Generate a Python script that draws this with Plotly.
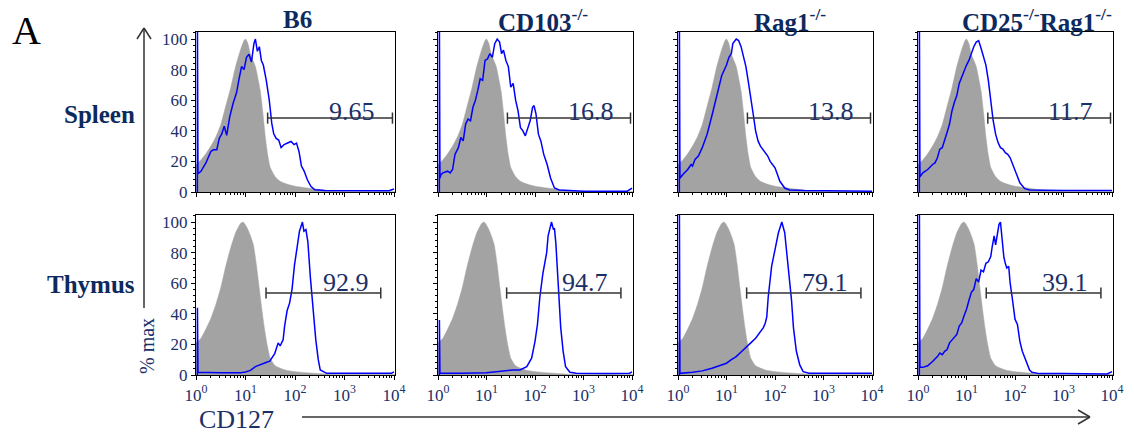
import plotly.graph_objects as go

W, H = 1134, 435

# ---------------- data ----------------
column_titles = ["B6", "CD103<sup>-/-</sup>", "Rag1<sup>-/-</sup>", "CD25<sup>-/-</sup>Rag1<sup>-/-</sup>"]
row_titles = ["Spleen", "Thymus"]
x_tick_vals = [1, 10, 100, 1000, 10000]
x_tick_text = ["10<sup>0</sup>", "10<sup>1</sup>", "10<sup>2</sup>", "10<sup>3</sup>", "10<sup>4</sup>"]
y_tick_vals = [0, 20, 40, 60, 80, 100]

# gray control histograms: log10(CD127) and % max
gray_spleen_log = [0, 0.1, 0.2, 0.3, 0.4, 0.5, 0.6, 0.7, 0.8, 0.9, 0.97, 1.0, 1.05, 1.1, 1.2, 1.3, 1.35, 1.4,
                   1.45, 1.5, 1.6, 1.7, 1.85, 2.0, 2.3, 2.6, 2.9, 3.2, 4.02]
gray_spleen_pct = [18, 21, 25, 30, 36, 44, 56, 68, 82, 93, 99, 100, 97, 90, 82, 66, 52, 36,
                   24, 16, 10, 7, 5, 3.8, 2.4, 1.2, 0.5, 0.3, 0.2]
gray_thymus_log = [0, 0.1, 0.2, 0.3, 0.4, 0.5, 0.6, 0.7, 0.8, 0.9, 0.95, 1.0, 1.05, 1.1, 1.16, 1.22, 1.28, 1.33,
                   1.38, 1.43, 1.5, 1.6, 1.8, 2.0, 2.3, 2.6, 3.0, 4.02]
gray_thymus_pct = [21, 24, 30, 37, 46, 57, 71, 83, 93, 99, 100, 98, 95, 91, 85, 72, 56, 43,
                   31, 21, 11, 6, 3.3, 2.2, 1.3, 0.7, 0.3, 0.3]

# blue CD127 histograms
b6_spleen_log = [0.028, 0.029, 0.04, 0.1, 0.2, 0.3, 0.35, 0.42, 0.47, 0.52, 0.57, 0.62, 0.68, 0.75, 0.82, 0.87,
                 0.92, 0.97, 1.02, 1.07, 1.12, 1.17, 1.2, 1.24, 1.28, 1.32, 1.36, 1.42, 1.48, 1.53, 1.57, 1.62,
                 1.67, 1.72, 1.78, 1.85, 1.92, 1.98, 2.03, 2.08, 2.13, 2.18, 2.25, 2.32, 2.4, 2.6, 3.0, 3.5,
                 3.9, 4.0]
b6_spleen_pct = [0, 110, 12, 13.5, 19, 26.5, 27.6, 27.6, 35, 38, 43, 37, 49, 58, 65, 74,
                 82, 80, 88, 90, 85, 97, 100, 92, 95, 86, 83, 73, 60, 45, 38, 35,
                 34, 29, 31, 32, 33, 31, 32, 26.5, 17, 14, 8, 3.7, 1.5, 0.9, 0.8, 0.6,
                 0.8, 2]
cd103_spleen_log = [0.028, 0.029, 0.04, 0.06, 0.1, 0.2, 0.25, 0.3, 0.35, 0.42, 0.47, 0.52, 0.57, 0.62, 0.67,
                    0.72, 0.77, 0.82, 0.87, 0.92, 0.97, 1.02, 1.07, 1.12, 1.17, 1.22, 1.27, 1.31, 1.35, 1.4,
                    1.45, 1.5, 1.55, 1.6, 1.65, 1.7, 1.75, 1.8, 1.85, 1.9, 1.95, 1.98, 2.02, 2.07, 2.12,
                    2.18, 2.25, 2.32, 2.4, 2.5, 3.0, 3.5, 3.9, 4.0]
cd103_spleen_pct = [0, 110, 9, 11.4, 12.5, 13.6, 12.5, 14.7, 24.6, 29, 35.6, 33.4, 44.4, 47.7, 46.6,
                    55.4, 59.8, 66.4, 74, 73, 86, 87, 90.5, 88, 97, 100, 98, 90.5, 92.7, 86,
                    82, 68.6, 71, 60, 53, 42, 40, 36.7, 42, 46.6, 55.4, 56.5, 51, 37.8, 33.4,
                    24.6, 18, 9.2, 2.6, 1.3, 0.5, 0.3, 0.5, 2.6]
rag1_spleen_log = [0.028, 0.029, 0.04, 0.1, 0.2, 0.27, 0.3, 0.35, 0.42, 0.5, 0.6, 0.7, 0.8, 0.9, 1.0, 1.05,
                   1.1, 1.13, 1.2, 1.25, 1.3, 1.35, 1.4, 1.45, 1.5, 1.55, 1.6, 1.65, 1.7, 1.75, 1.8, 1.85,
                   1.9, 1.95, 2.0, 2.05, 2.1, 2.2, 2.3, 2.6, 3.0, 4.0]
rag1_spleen_pct = [0, 110, 9, 11.4, 14.7, 18, 17, 21.3, 23.5, 29, 37.8, 50, 64, 76, 83, 88,
                   90.5, 97, 100, 99, 95, 89, 82, 72, 60, 51, 40, 33.4, 30, 28, 25.7, 23.5,
                   20, 18, 15.8, 11.4, 7, 2.6, 1.3, 0.9, 0.7, 0.5]
cd25rag1_spleen_log = [0.028, 0.029, 0.04, 0.1, 0.2, 0.3, 0.35, 0.4, 0.45, 0.5, 0.55, 0.6, 0.65, 0.7, 0.75, 0.8,
                       0.85, 0.9, 0.95, 1.0, 1.05, 1.1, 1.15, 1.2, 1.25, 1.3, 1.35, 1.4, 1.45, 1.5, 1.55,
                       1.6, 1.65, 1.7, 1.75, 1.8, 1.85, 1.9, 1.95, 2.0, 2.05, 2.1, 2.2, 2.3, 2.6, 3.0, 4.0]
cd25rag1_spleen_pct = [0, 110, 10, 12.5, 14.7, 18, 19, 22.4, 28, 29, 33.4, 39, 44.4, 53, 58.7, 63,
                       71, 75, 80, 83, 86, 90.5, 95, 98, 99, 94, 89, 83, 73, 60, 46.6,
                       37.8, 32.3, 29, 28, 25.7, 24.6, 22.4, 18, 13.6, 9.2, 6, 2.2, 1.3, 1.1, 0.9, 0.9]

b6_thymus_log = [0.028, 0.029, 0.04, 0.5, 0.9, 1.0, 1.1, 1.2, 1.3, 1.4, 1.49, 1.59, 1.66, 1.70, 1.76, 1.79,
                 1.84, 1.89, 1.94, 1.99, 2.05, 2.09, 2.15, 2.18, 2.22, 2.26, 2.31, 2.36, 2.42, 2.47, 2.51,
                 2.64, 3.0, 3.5, 3.95, 4.0]
b6_thymus_pct = [0, 44, 1.8, 1.5, 1.5, 2, 3, 5.5, 7, 8, 9, 14, 21, 19, 23, 32,
                 42, 47, 56, 72, 85, 94, 100, 94, 95, 87, 64, 43, 23, 10, 3.3,
                 1.1, 1, 1, 1.2, 2]
cd103_thymus_log = [0.028, 0.029, 0.04, 0.5, 1.0, 1.2, 1.4, 1.55, 1.69, 1.83, 1.93, 2.0, 2.05, 2.1, 2.16, 2.2,
                    2.24, 2.27, 2.31, 2.34, 2.38, 2.40, 2.43, 2.46, 2.5, 2.53, 2.58, 2.63, 2.72, 2.85, 3.5,
                    3.95, 4.0]
cd103_thymus_pct = [0, 36, 1.1, 1.1, 1.5, 2.2, 2.9, 3.3, 3.3, 5.5, 11, 22, 33, 51, 66, 74,
                    80, 91, 96, 100, 95, 96, 86, 71, 51, 31, 15.5, 5.5, 1.8, 1.1, 1,
                    1.2, 2]
rag1_thymus_log = [0.028, 0.029, 0.04, 0.3, 0.5, 0.7, 0.8, 0.9, 1.0, 1.1, 1.2, 1.3, 1.4, 1.5, 1.6, 1.7,
                   1.76, 1.8, 1.83, 1.86, 1.93, 2.0, 2.07, 2.14, 2.2, 2.27, 2.34, 2.38, 2.44, 2.51, 2.58,
                   2.7, 3.5, 4.0]
rag1_thymus_pct = [0, 110, 1.1, 1.8, 2.7, 4.4, 5.5, 7, 7.7, 10, 12, 15, 17.7, 21, 24, 28,
                   31, 34, 38, 51, 71, 82, 93, 100, 93, 71, 49, 31, 15.5, 6.6, 2.2,
                   1.1, 0.9, 1.1]
cd25rag1_thymus_log = [0.028, 0.029, 0.04, 0.1, 0.2, 0.3, 0.4, 0.45, 0.5, 0.55, 0.6, 0.65, 0.7, 0.75, 0.8, 0.85,
                       0.9, 0.95, 1.0, 1.05, 1.1, 1.15, 1.2, 1.25, 1.3, 1.35, 1.4, 1.45, 1.5, 1.53, 1.57,
                       1.6, 1.63, 1.67, 1.7, 1.73, 1.77, 1.8, 1.83, 1.87, 1.9, 1.95, 2.0, 2.05, 2.1, 2.15,
                       2.2, 2.25, 2.3, 2.35, 2.5, 3.0, 3.9, 4.0]
cd25rag1_thymus_pct = [0, 110, 5, 5, 6, 8.8, 12, 14.4, 13.3, 15.5, 16.6, 21, 23, 24.3, 26.5, 32,
                       34, 38.7, 43, 48.7, 54, 56, 63, 60.8, 68.6, 67.5, 73, 74, 77.4, 84, 91,
                       85, 91, 98.5, 100, 88.5, 77, 73, 70, 71, 60, 48.7, 36.5, 33, 22, 15.5,
                       11, 6.6, 3.3, 1.8, 0.9, 0.9, 0.7, 2.2]

blue_log = [[b6_spleen_log, cd103_spleen_log, rag1_spleen_log, cd25rag1_spleen_log],
            [b6_thymus_log, cd103_thymus_log, rag1_thymus_log, cd25rag1_thymus_log]]
blue_pct = [[b6_spleen_pct, cd103_spleen_pct, rag1_spleen_pct, cd25rag1_spleen_pct],
            [b6_thymus_pct, cd103_thymus_pct, rag1_thymus_pct, cd25rag1_thymus_pct]]
gray_log = [gray_spleen_log, gray_thymus_log]
gray_pct = [gray_spleen_pct, gray_thymus_pct]

# gate percentages and gate bounds (CD127 values)
gate_percent = [["9.65", "16.8", "13.8", "11.7"], ["92.9", "94.7", "79.1", "39.1"]]
gate_low = [[28, 27, 27, 27.5], [26, 26, 26, 25.5]]
gate_high = [[9300, 9300, 9300, 9300], [5400, 5900, 5900, 5900]]
gate_level = [48.3, 53.6]

# ---------------- layout helpers ----------------
col_px = [(196, 395), (438, 633), (678, 873), (918, 1113)]
row_px = [(32, 192), (215, 375)]
NAVY = "#1b2f68"
SERIF = "Liberation Serif, Times New Roman, serif"


def px(x):
    return x / W


def py(y):
    return 1 - y / H


minor_x = [m * 10 ** k for k in range(4) for m in range(2, 10)]

fig = go.Figure()
layout_axes = {}
annotations = []

for r in range(2):
    for c in range(4):
        i = r * 4 + c + 1
        xa = "x" if i == 1 else f"x{i}"
        ya = "y" if i == 1 else f"y{i}"
        gx = [10 ** v for v in gray_log[r]]
        fig.add_trace(go.Scatter(x=gx, y=gray_pct[r], mode="lines", fill="tozeroy",
                                 fillcolor="#a3a3a3", line=dict(color="#a3a3a3", width=0.5, shape="spline",
                                                                smoothing=0.5),
                                 xaxis=xa, yaxis=ya, hoverinfo="skip"))
        bx = [10 ** v for v in blue_log[r][c]]
        fig.add_trace(go.Scatter(x=bx, y=blue_pct[r][c], mode="lines",
                                 line=dict(color="#0000ff", width=1.5),
                                 xaxis=xa, yaxis=ya, hoverinfo="skip"))
        fig.add_trace(go.Scatter(x=[gate_low[r][c], gate_high[r][c]], y=[gate_level[r]] * 2,
                                 mode="lines+markers", line=dict(color="#333333", width=1.5),
                                 marker=dict(symbol="line-ns", size=8,
                                             line=dict(color="#333333", width=1.5)),
                                 xaxis=xa, yaxis=ya, hoverinfo="skip"))
        x0, x1 = col_px[c]
        y0, y1 = row_px[r]
        layout_axes["xaxis" if i == 1 else f"xaxis{i}"] = dict(
            domain=[px(x0), px(x1)], anchor=ya, type="log", range=[0, 4.02], automargin=False,
            showline=True, linecolor="black", linewidth=1.3, mirror=True,
            ticks="outside", ticklen=4, tickwidth=1, tickcolor="black",
            tickmode="array", tickvals=x_tick_vals, ticktext=x_tick_text,
            showticklabels=(r == 1), tickfont=dict(family=SERIF, size=17, color=NAVY),
            showgrid=False, zeroline=False,
            minor=dict(tickmode="array", tickvals=minor_x, ticks="outside", ticklen=2,
                       tickcolor="black", showgrid=False),
        )
        layout_axes["yaxis" if i == 1 else f"yaxis{i}"] = dict(
            domain=[py(y1), py(y0)], anchor=xa, range=[0, 104.6], automargin=False,
            showline=True, linecolor="black", linewidth=1.3, mirror=True,
            ticks="outside", ticklen=4, tickwidth=1, tickcolor="black",
            tickmode="array", tickvals=y_tick_vals,
            showticklabels=(c == 0), tickfont=dict(family=SERIF, size=17, color=NAVY),
            showgrid=False, zeroline=False,
            minor=dict(dtick=4, tick0=0, ticks="outside", ticklen=2, tickcolor="black", showgrid=False),
        )
        label_x = 3.15 if r == 0 else 3.04
        label_y = 52.5 if r == 0 else 60.5
        annotations.append(dict(x=label_x, y=label_y, xref=xa, yref=ya, text=gate_percent[r][c],
                                showarrow=False, xanchor="center", yanchor="middle",
                                font=dict(family=SERIF, size=26, color=NAVY)))

# column titles
title_cx = [297, 543, 790, 1037]
for c in range(4):
    annotations.append(dict(x=px(title_cx[c]), y=py(20), xref="paper", yref="paper",
                            text=f"<b>{column_titles[c]}</b>", showarrow=False,
                            xanchor="center", yanchor="middle",
                            font=dict(family=SERIF, size=25, color="#0d2a5e")))
# row titles
row_cy = [114, 284]
for r in range(2):
    annotations.append(dict(x=px(137), y=py(row_cy[r]), xref="paper", yref="paper",
                            text=f"<b>{row_titles[r]}</b>", showarrow=False,
                            xanchor="right", yanchor="middle",
                            font=dict(family=SERIF, size=25, color="#0d2a5e")))
# panel letter
annotations.append(dict(x=px(10), y=py(30), xref="paper", yref="paper", text="A", showarrow=False,
                        xanchor="left", yanchor="middle", font=dict(family=SERIF, size=40, color="black")))
# axis labels
annotations.append(dict(x=px(147), y=py(346), xref="paper", yref="paper", text="% max", showarrow=False,
                        textangle=-90, xanchor="center", yanchor="middle",
                        font=dict(family=SERIF, size=20, color=NAVY)))
annotations.append(dict(x=px(236), y=py(419), xref="paper", yref="paper", text="CD127", showarrow=False,
                        xanchor="center", yanchor="middle",
                        font=dict(family=SERIF, size=26, color=NAVY)))

# arrows (paper coordinates, from pixel positions)
arrow_color = "#333333"
shapes = []
for (ax0, ay0, ax1, ay1) in [(144, 28, 144, 308), (144, 28, 137, 39), (144, 28, 151, 39),
                             (302, 417, 1090, 417), (1090, 417, 1078, 410), (1090, 417, 1078, 424)]:
    shapes.append(dict(type="line", xref="paper", yref="paper", x0=px(ax0), y0=py(ay0),
                       x1=px(ax1), y1=py(ay1), line=dict(color=arrow_color, width=1.5)))

fig.update_layout(width=W, height=H, margin=dict(l=0, r=0, t=0, b=0),
                  paper_bgcolor="white", plot_bgcolor="white", showlegend=False,
                  annotations=annotations, shapes=shapes, **layout_axes)

fig.write_html("out.html", config={"displayModeBar": False},
               post_script="document.body.style.margin='0';document.body.style.overflow='hidden';")
